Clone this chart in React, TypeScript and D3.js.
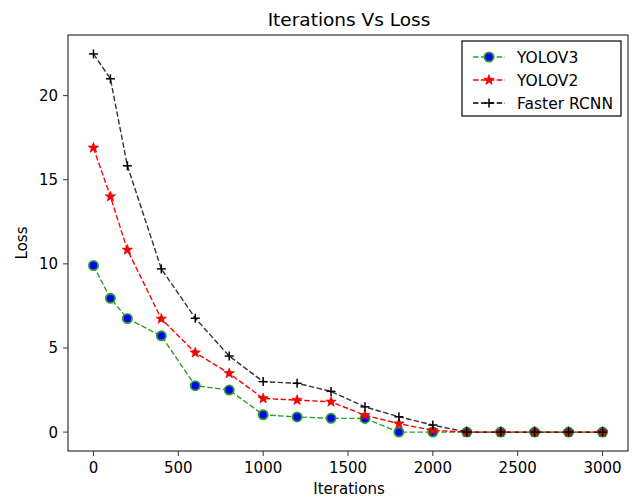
import React from "react";
import * as d3 from "d3";

const iterations = [0, 100, 200, 400, 600, 800, 1000, 1200, 1400, 1600, 1800, 2000, 2200, 2400, 2600, 2800, 3000];
const yolov3 = [9.9, 7.95, 6.75, 5.72, 2.76, 2.5, 1.03, 0.9, 0.82, 0.81, 0.0, 0.0, 0, 0, 0, 0, 0];
const yolov2 = [16.9, 14.0, 10.83, 6.73, 4.72, 3.49, 2.0, 1.9, 1.8, 1.0, 0.5, 0.1, 0, 0, 0, 0, 0];
const fasterRcnn = [22.48, 21.0, 15.83, 9.7, 6.77, 4.52, 3.0, 2.9, 2.42, 1.5, 0.91, 0.42, 0, 0, 0, 0, 0];
const xTicks = [0, 500, 1000, 1500, 2000, 2500, 3000];
const yTicks = [0, 5, 10, 15, 20];
const seriesNames = ["YOLOV3", "YOLOV2", "Faster RCNN"];

const W = 635, H = 501;
const L = 68, R = 628, T = 35, B = 451;

const font = "DejaVu Sans, sans-serif";

function Star({ x, y, r }: { x: number; y: number; r: number }) {
  const pts: string[] = [];
  for (let i = 0; i < 10; i++) {
    const a = -Math.PI / 2 + (i * Math.PI) / 5;
    const rr = i % 2 === 0 ? r : r * 0.42;
    pts.push(`${x + rr * Math.cos(a)},${y + rr * Math.sin(a)}`);
  }
  return <polygon points={pts.join(" ")} fill="#ff0000" stroke="#cc0000" strokeWidth={0.6} />;
}

function Circle({ x, y }: { x: number; y: number }) {
  return <circle cx={x} cy={y} r={4.6} fill="#0000ff" stroke="#2ca02c" strokeWidth={1.8} />;
}

function Plus({ x, y }: { x: number; y: number }) {
  return (
    <g stroke="#000" strokeWidth={1.5}>
      <line x1={x - 4.5} x2={x + 4.5} y1={y} y2={y} />
      <line x1={x} x2={x} y1={y - 4.5} y2={y + 4.5} />
    </g>
  );
}

export default function App() {
  const x = d3.scaleLinear().domain([-150, 3150]).range([L, R]);
  const y = d3.scaleLinear().domain([-1.124, 23.604]).range([B, T]);
  const line = d3
    .line<number>()
    .x((_, i) => x(iterations[i]))
    .y((d) => y(d));

  const dash = "5.5 2.4";
  return (
    <svg width={W} height={H} style={{ position: "absolute", left: 0, top: 0, background: "#fff" }}>
      <rect width={W} height={H} fill="#fff" />
      <text x={(L + R) / 2 + 1} y={26} textAnchor="middle" fontFamily={font} fontSize={18.5}>
        Iterations Vs Loss
      </text>
      {/* series */}
      <path d={line(yolov3) || ""} fill="none" stroke="#2ca02c" strokeWidth={1.4} strokeDasharray={dash} />
      {yolov3.map((v, i) => (
        <Circle key={"c" + i} x={x(iterations[i])} y={y(v)} />
      ))}
      <path d={line(yolov2) || ""} fill="none" stroke="#ff0000" strokeWidth={1.4} strokeDasharray={dash} />
      {yolov2.map((v, i) => (
        <Star key={"s" + i} x={x(iterations[i])} y={y(v)} r={5.5} />
      ))}
      <path d={line(fasterRcnn) || ""} fill="none" stroke="#000" strokeWidth={1.4} strokeDasharray={dash} opacity={0.8} />
      {fasterRcnn.map((v, i) => (
        <Plus key={"p" + i} x={x(iterations[i])} y={y(v)} />
      ))}
      {/* frame */}
      <rect x={L} y={T} width={R - L} height={B - T} fill="none" stroke="#333" strokeWidth={1.2} />
      {xTicks.map((t) => (
        <g key={"xt" + t}>
          <line x1={x(t)} x2={x(t)} y1={B} y2={B + 5} stroke="#333" strokeWidth={1} />
          <text x={x(t)} y={B + 22} textAnchor="middle" fontFamily={font} fontSize={15}>
            {t}
          </text>
        </g>
      ))}
      {yTicks.map((t) => (
        <g key={"yt" + t}>
          <line x1={L - 5} x2={L} y1={y(t)} y2={y(t)} stroke="#333" strokeWidth={1} />
          <text x={L - 10} y={y(t) + 5.5} textAnchor="end" fontFamily={font} fontSize={15}>
            {t}
          </text>
        </g>
      ))}
      <text x={(L + R) / 2 + 1} y={494} textAnchor="middle" fontFamily={font} fontSize={15}>
        Iterations
      </text>
      <text transform={`translate(27,${(T + B) / 2}) rotate(-90)`} textAnchor="middle" fontFamily={font} fontSize={15}>
        Loss
      </text>
      {/* legend */}
      <rect x={462} y={41} width={159} height={75} fill="#fff" stroke="#000" strokeWidth={1.2} />
      {seriesNames.map((n, i) => {
        const ly = 57 + i * 23;
        const col = i === 0 ? "#2ca02c" : i === 1 ? "#ff0000" : "#000";
        return (
          <g key={n}>
            <line x1={473} x2={505} y1={ly} y2={ly} stroke={col} strokeWidth={1.4} strokeDasharray={dash} />
            {i === 0 && <Circle x={489} y={ly} />}
            {i === 1 && <Star x={489} y={ly} r={5.5} />}
            {i === 2 && <Plus x={489} y={ly} />}
            <text x={517} y={ly + 5.5} fontFamily={font} fontSize={15.5}>
              {n}
            </text>
          </g>
        );
      })}
    </svg>
  );
}
